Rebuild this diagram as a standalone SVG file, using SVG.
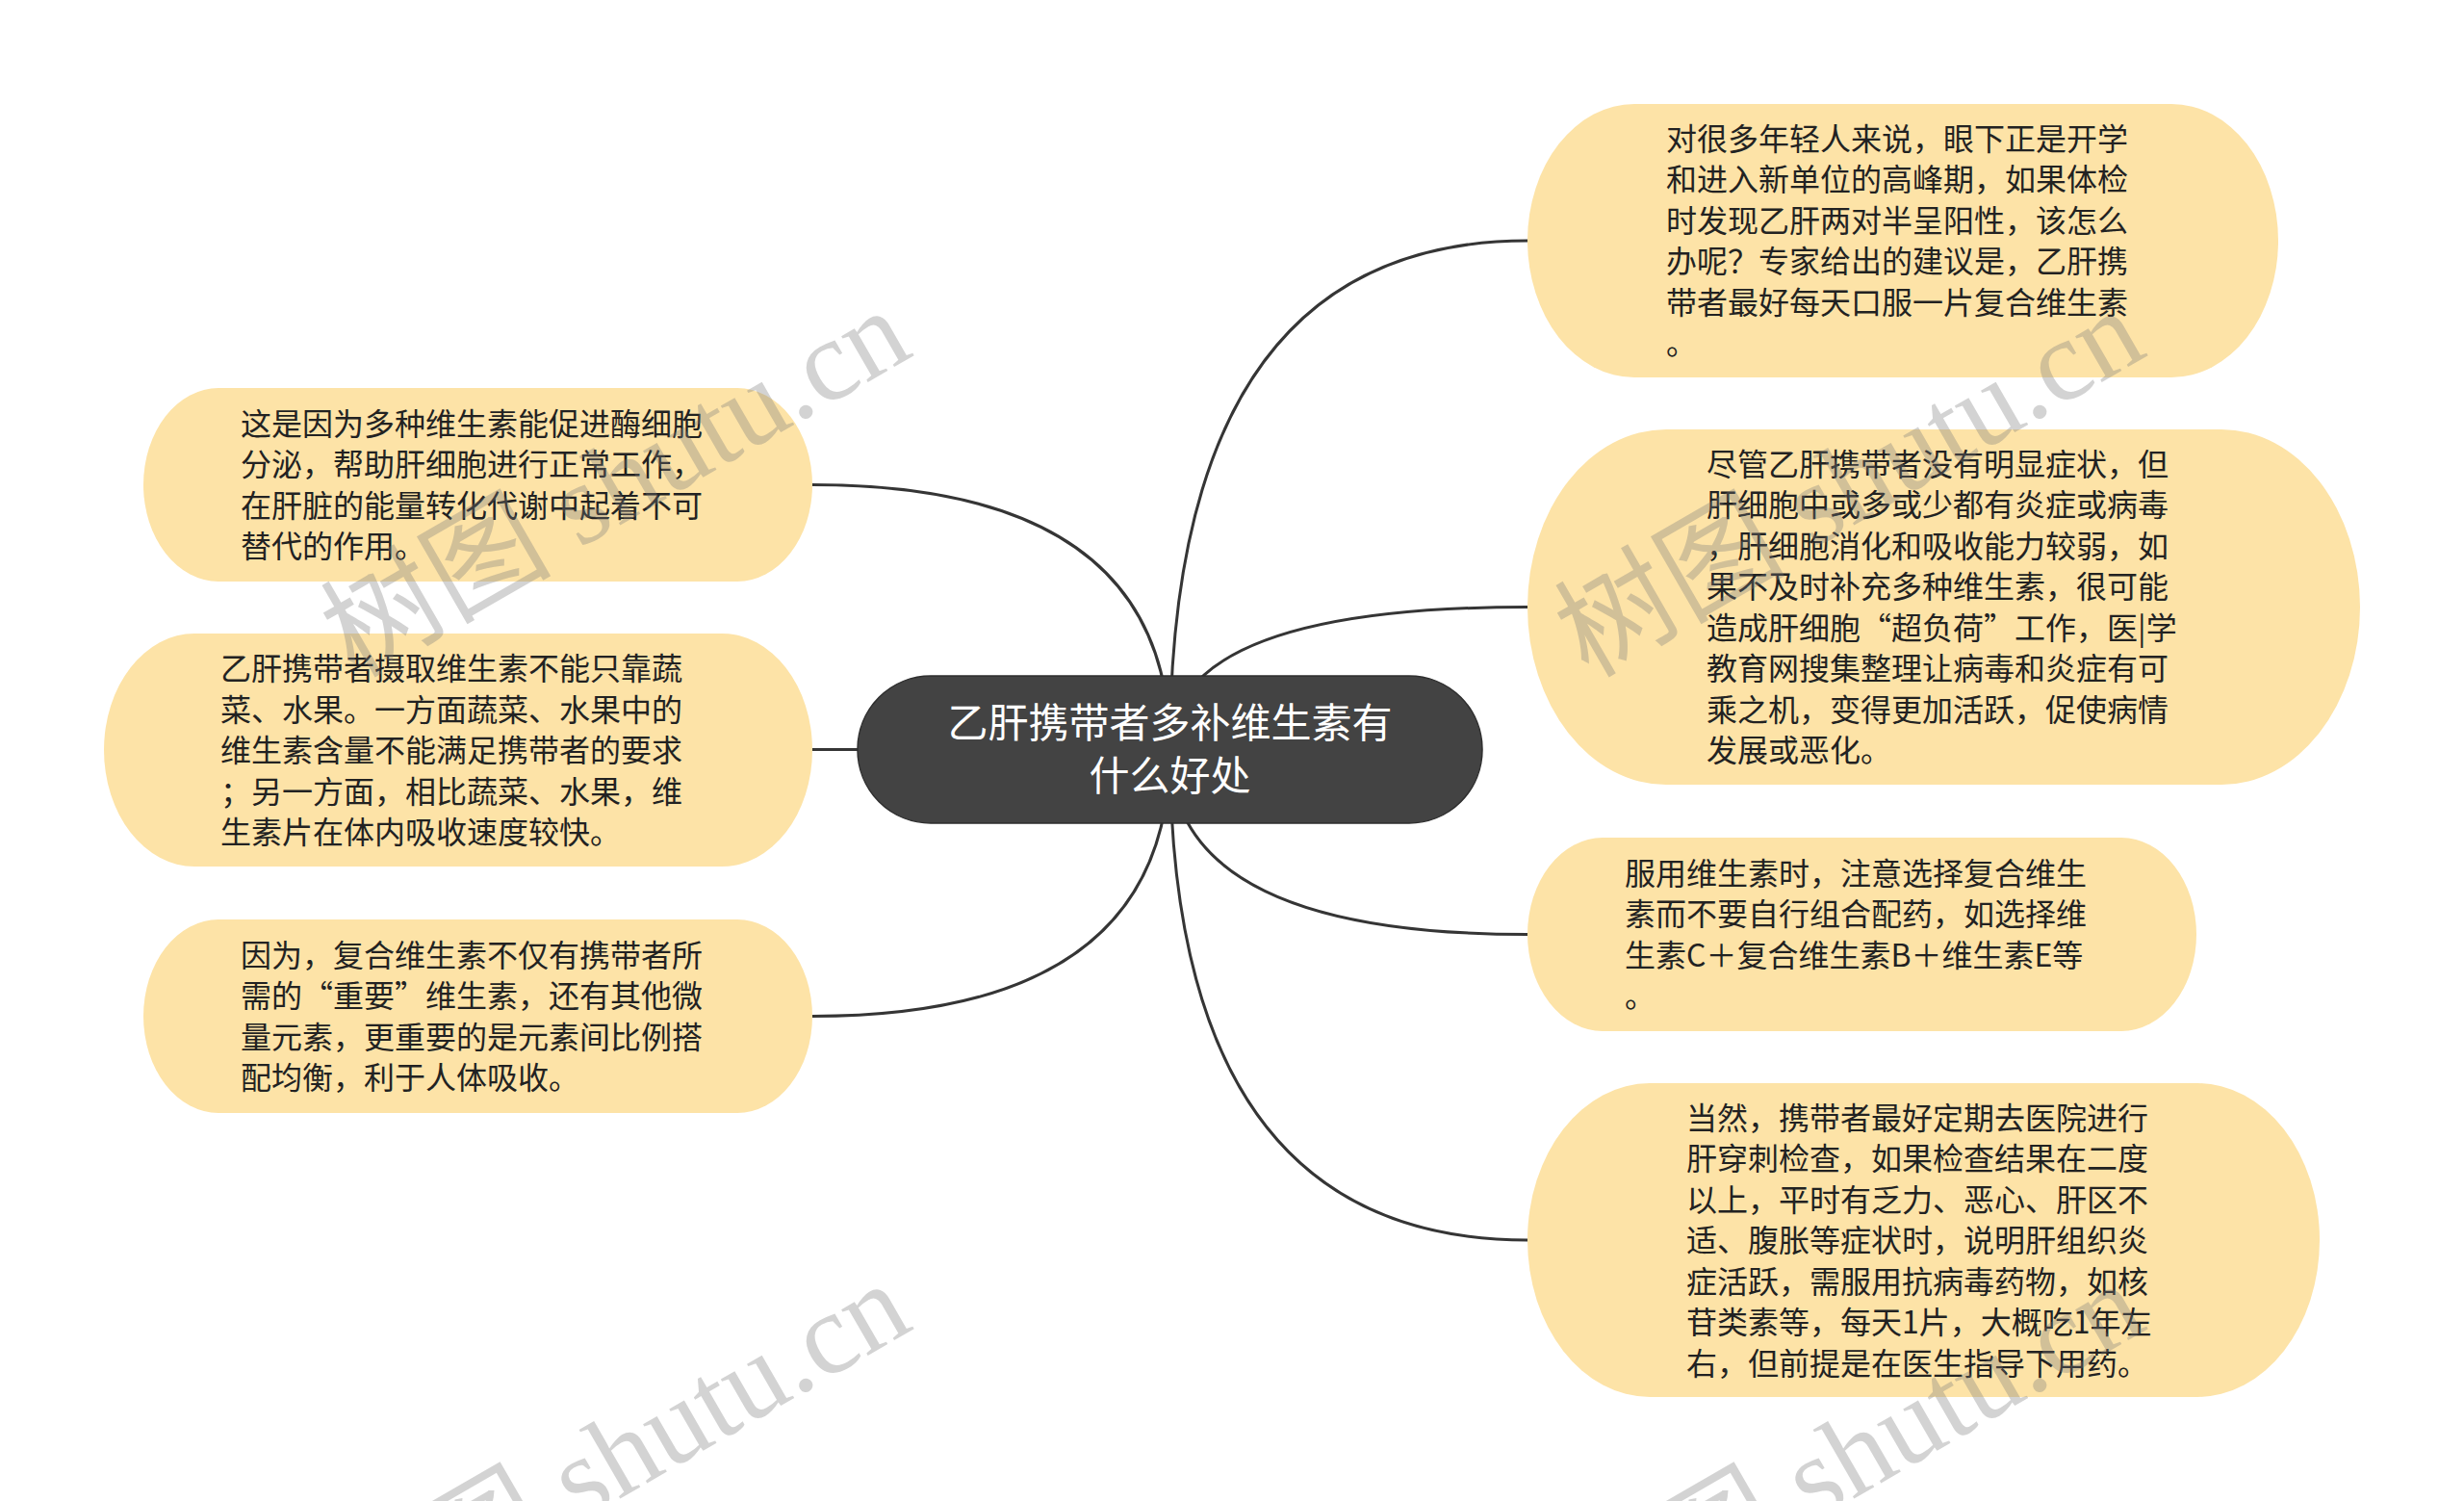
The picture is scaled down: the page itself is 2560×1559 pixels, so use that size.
<svg xmlns="http://www.w3.org/2000/svg" width="2560" height="1559" viewBox="0 0 2560 1559">
<style>
.bg{fill:#ffffff}
.box{fill:#fde3a7}
.root{fill:#434343;stroke:#2e2e2e;stroke-width:1.5}
.t{font-family:"Noto Sans CJK SC","Noto Sans",sans-serif;font-size:32px;fill:#222222}
.rt{font-family:"Noto Sans CJK SC","Noto Sans",sans-serif;font-size:42px;fill:#ffffff;text-anchor:middle}
.edge{fill:none;stroke:#353535;stroke-width:3}
.wm{font-family:"Liberation Serif","Noto Sans CJK SC",serif;font-size:120px;fill:#7a7a7a;fill-opacity:0.33}
</style>
<rect class="bg" x="0" y="0" width="2560" height="1559"/>
<g id="connectors">
<path class="edge" d="M1215.5,778.5 Q1215.5,503.5 844,503.5"/>
<path class="edge" d="M1215.5,778.5 L844,778.5"/>
<path class="edge" d="M1215.5,778.5 Q1215.5,1055.5 844,1055.5"/>
<path class="edge" d="M1215.5,778.5 Q1215.5,250 1587,250"/>
<path class="edge" d="M1215.5,778.5 Q1215.5,630.5 1587,630.5"/>
<path class="edge" d="M1215.5,778.5 Q1215.5,970.5 1587,970.5"/>
<path class="edge" d="M1215.5,778.5 Q1215.5,1288 1587,1288"/>
</g>
<g id="root">
<rect class="root" x="891" y="702" width="649" height="153" rx="76" ry="76"/>
<text class="rt"><tspan x="1215.5" y="766">乙肝携带者多补维生素有</tspan><tspan x="1215.5" y="821">什么好处</tspan></text>
</g>
<g id="r1">
<rect class="box" x="1587" y="108" width="780" height="284" rx="111" ry="142"/>
<text class="t"><tspan x="1731" y="155.75">对很多年轻人来说，眼下正是开学</tspan><tspan x="1731" y="198.25">和进入新单位的高峰期，如果体检</tspan><tspan x="1731" y="240.75">时发现乙肝两对半呈阳性，该怎么</tspan><tspan x="1731" y="283.25">办呢？专家给出的建议是，乙肝携</tspan><tspan x="1731" y="325.75">带者最好每天口服一片复合维生素</tspan><tspan x="1731" y="368.25">。</tspan></text>
</g>
<g id="r2">
<rect class="box" x="1587" y="446" width="865" height="369" rx="144" ry="184.5"/>
<text class="t"><tspan x="1773" y="493.75">尽管乙肝携带者没有明显症状，但</tspan><tspan x="1773" y="536.25">肝细胞中或多或少都有炎症或病毒</tspan><tspan x="1773" y="578.75">，肝细胞消化和吸收能力较弱，如</tspan><tspan x="1773" y="621.25">果不及时补充多种维生素，很可能</tspan><tspan x="1773" y="663.75">造成肝细胞“超负荷”工作，医|学</tspan><tspan x="1773" y="706.25">教育网搜集整理让病毒和炎症有可</tspan><tspan x="1773" y="748.75">乘之机，变得更加活跃，促使病情</tspan><tspan x="1773" y="791.25">发展或恶化。</tspan></text>
</g>
<g id="r3">
<rect class="box" x="1587" y="870" width="695" height="201" rx="78" ry="100.5"/>
<text class="t"><tspan x="1688" y="918.75">服用维生素时，注意选择复合维生</tspan><tspan x="1688" y="961.25">素而不要自行组合配药，如选择维</tspan><tspan x="1688" y="1003.75">生素C＋复合维生素B＋维生素E等</tspan><tspan x="1688" y="1046.25">。</tspan></text>
</g>
<g id="r4">
<rect class="box" x="1587" y="1125" width="823" height="326" rx="127" ry="163"/>
<text class="t"><tspan x="1752" y="1172.5">当然，携带者最好定期去医院进行</tspan><tspan x="1752" y="1215">肝穿刺检查，如果检查结果在二度</tspan><tspan x="1752" y="1257.5">以上，平时有乏力、恶心、肝区不</tspan><tspan x="1752" y="1300">适、腹胀等症状时，说明肝组织炎</tspan><tspan x="1752" y="1342.5">症活跃，需服用抗病毒药物，如核</tspan><tspan x="1752" y="1385">苷类素等，每天1片，大概吃1年左</tspan><tspan x="1752" y="1427.5">右，但前提是在医生指导下用药。</tspan></text>
</g>
<g id="l1">
<rect class="box" x="149" y="403" width="695" height="201" rx="78" ry="100.5"/>
<text class="t"><tspan x="250" y="451.75">这是因为多种维生素能促进酶细胞</tspan><tspan x="250" y="494.25">分泌，帮助肝细胞进行正常工作，</tspan><tspan x="250" y="536.75">在肝脏的能量转化代谢中起着不可</tspan><tspan x="250" y="579.25">替代的作用。</tspan></text>
</g>
<g id="l2">
<rect class="box" x="108" y="658" width="736" height="242" rx="94" ry="121"/>
<text class="t"><tspan x="229" y="706">乙肝携带者摄取维生素不能只靠蔬</tspan><tspan x="229" y="748.5">菜、水果。一方面蔬菜、水果中的</tspan><tspan x="229" y="791">维生素含量不能满足携带者的要求</tspan><tspan x="229" y="833.5">；另一方面，相比蔬菜、水果，维</tspan><tspan x="229" y="876">生素片在体内吸收速度较快。</tspan></text>
</g>
<g id="l3">
<rect class="box" x="149" y="955" width="695" height="201" rx="78" ry="100.5"/>
<text class="t"><tspan x="250" y="1003.75">因为，复合维生素不仅有携带者所</tspan><tspan x="250" y="1046.25">需的“重要”维生素，还有其他微</tspan><tspan x="250" y="1088.75">量元素，更重要的是元素间比例搭</tspan><tspan x="250" y="1131.25">配均衡，利于人体吸收。</tspan></text>
</g>
<g id="watermark">
<text class="wm" transform="translate(368,705) rotate(-30)">树图 shutu.cn</text>
<text class="wm" transform="translate(1650,705) rotate(-30)">树图 shutu.cn</text>
<text class="wm" transform="translate(368,1716) rotate(-30)">树图 shutu.cn</text>
<text class="wm" transform="translate(1650,1716) rotate(-30)">树图 shutu.cn</text>
</g>
</svg>
